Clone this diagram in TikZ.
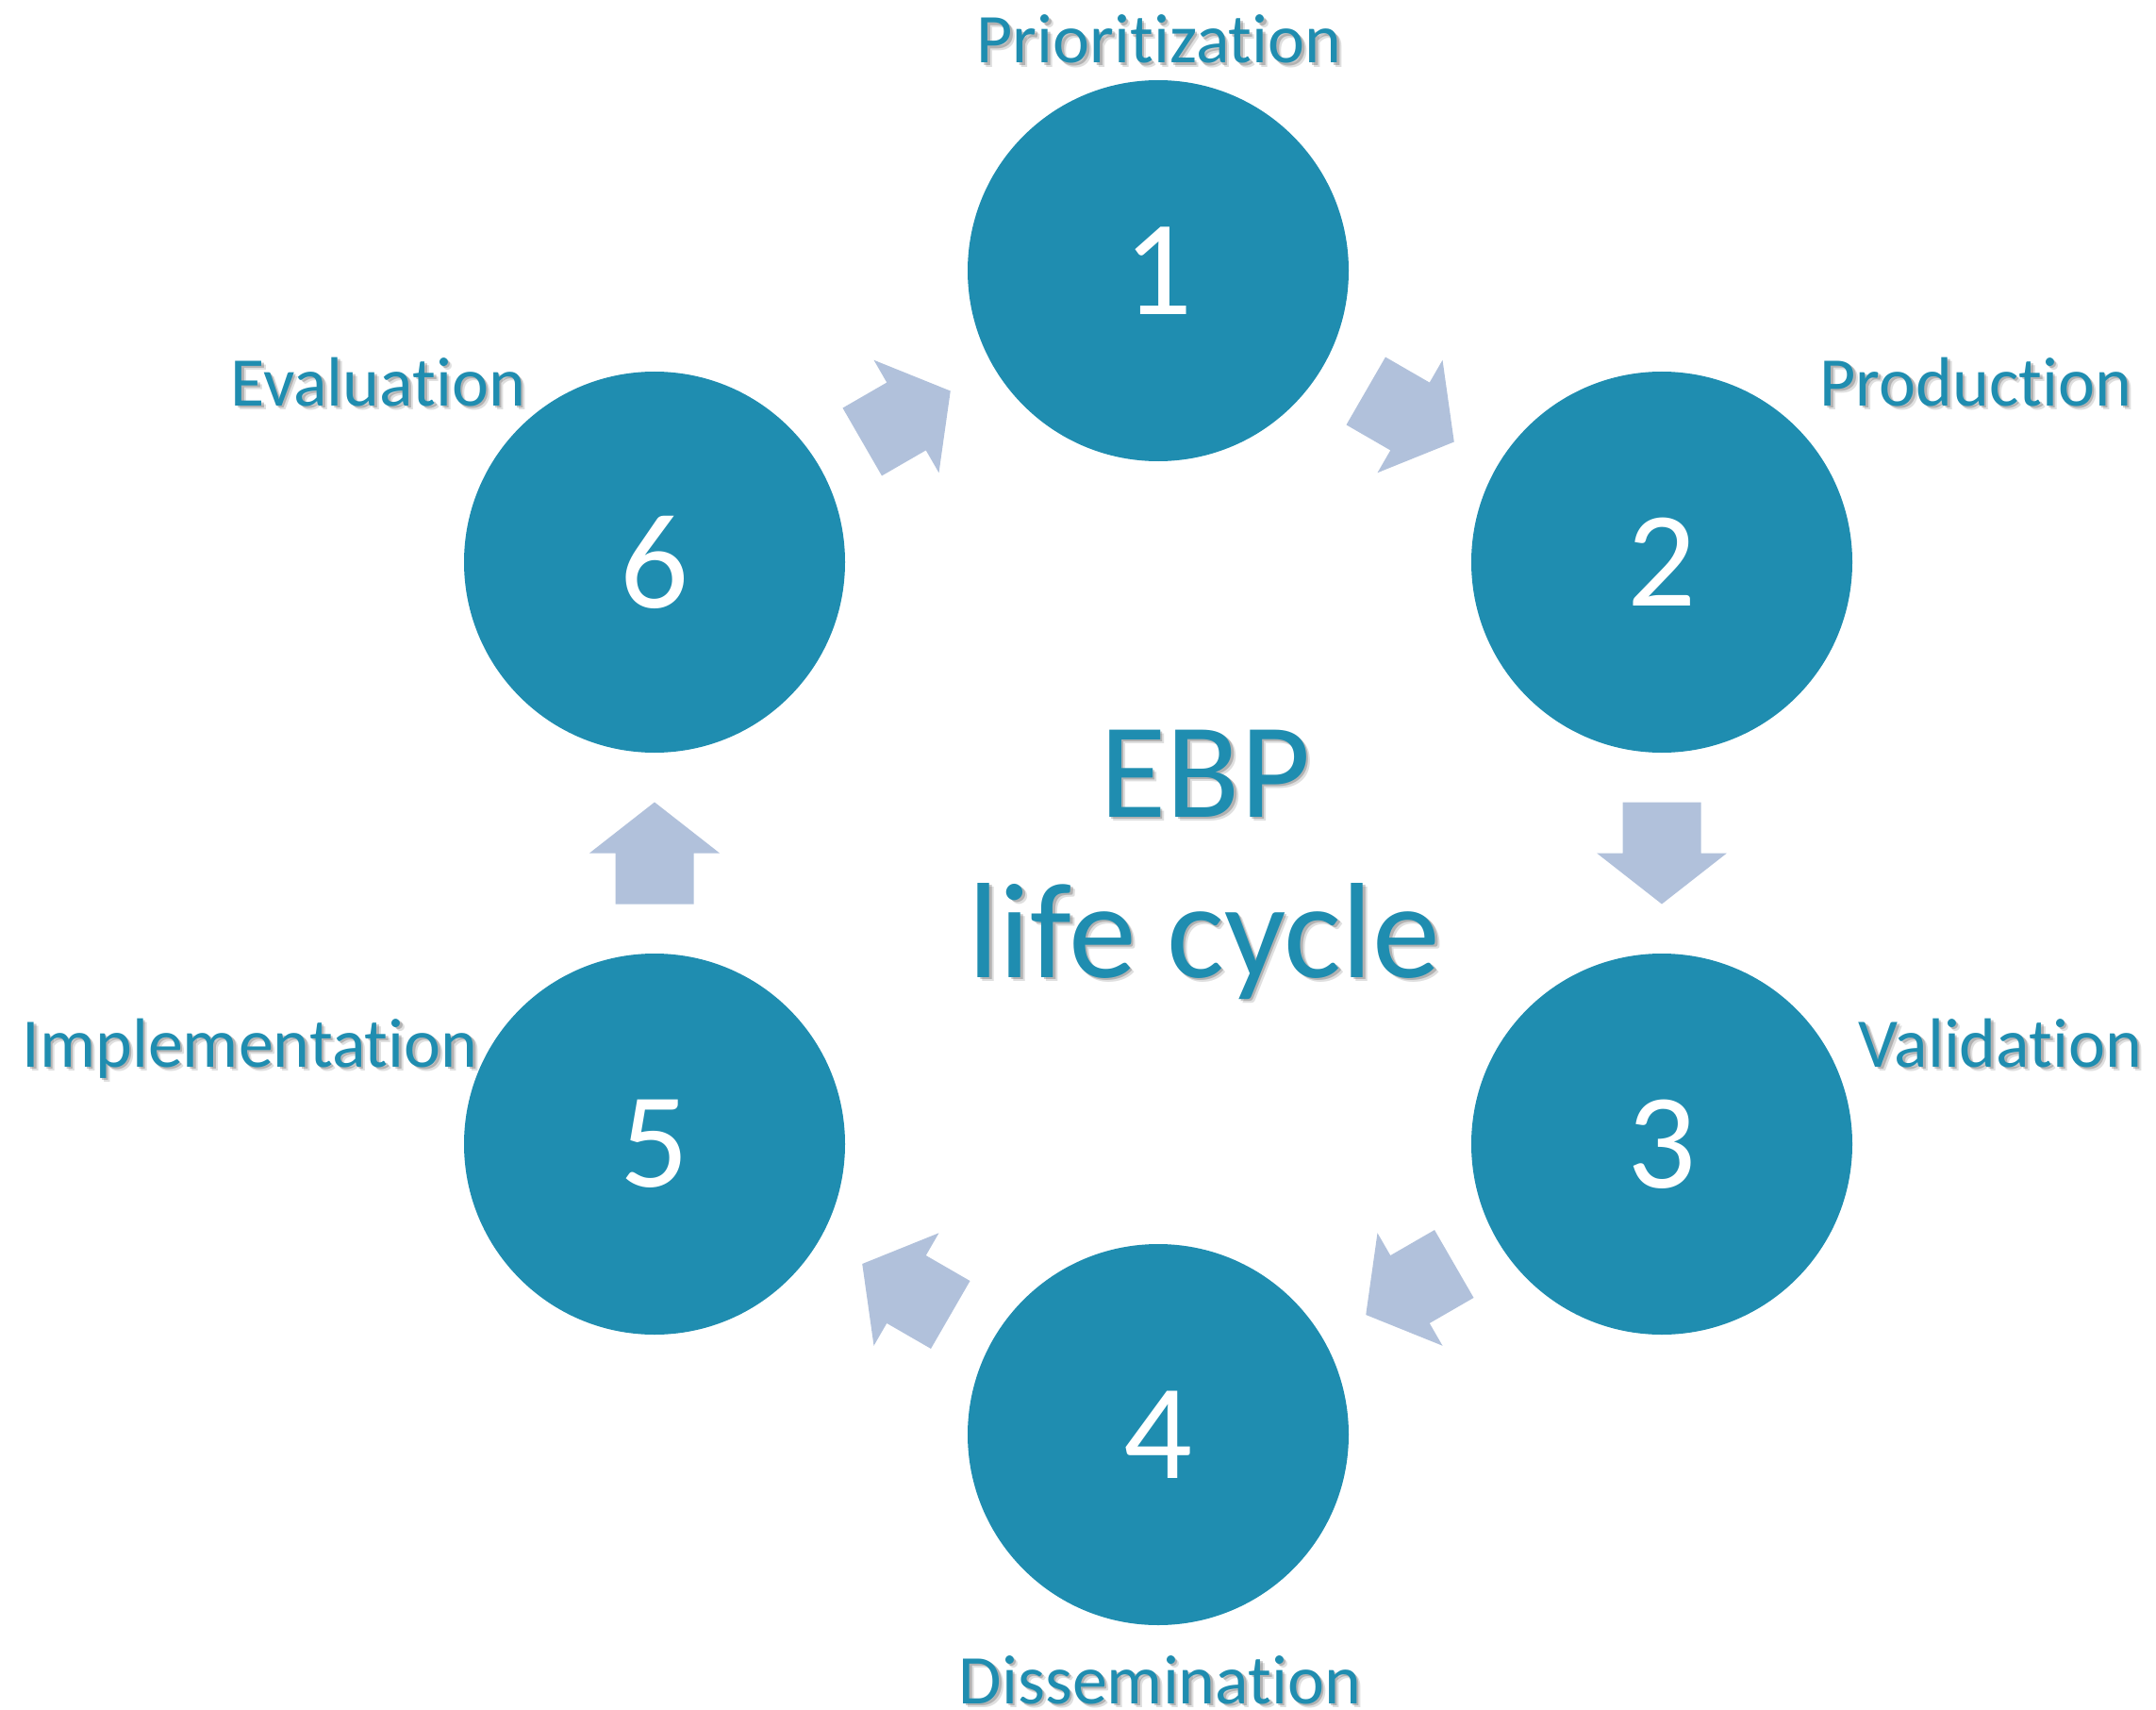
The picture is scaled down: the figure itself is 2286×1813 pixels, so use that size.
\documentclass[tikz,border=0pt]{standalone}
\usepackage{fontspec}
\setmainfont{Carlito}[Ligatures={NoCommon,NoContextual}]
\usetikzlibrary{calc}
\definecolor{stagecol}{RGB}{31,141,176}
\definecolor{arrowcol}{RGB}{177,193,219}
\newcommand\shadowedtext[4]{% text, x, y, options
  \node[labsh,opacity=0.18,#4] at (#2+4.5,#3+4.5) {#1};
  \node[labsh,opacity=0.30,#4] at (#2+2.5,#3+2.5) {#1};
  \node[lab,#4] at (#2,#3) {#1};
}
\begin{document}
\begin{tikzpicture}[x=0.5pt,y=-0.5pt,
  stage/.style={circle,fill=stagecol,minimum size=202pt,inner sep=0pt,text=white,
    font=\fontsize{72}{72}\selectfont},
  lab/.style={anchor=base,inner sep=0pt,text=stagecol},
  labsh/.style={anchor=base,inner sep=0pt,text=black!70},
  small/.style={font=\fontsize{37}{44}\selectfont},
  big/.style={font=\fontsize{72}{85}\selectfont},
  blockarrow/.pic={\fill[arrowcol] (-54,-41.5) -- (0,-41.5) -- (0,-69) -- (54,0)
     -- (0,69) -- (0,41.5) -- (-54,41.5) -- cycle;}
]
\useasboundingbox (0,0) rectangle (2286,1813);

% stages
\node[stage] (c1) at (1228,287)  {1};
\node[stage] (c2) at (1762,596)  {2};
\node[stage] (c3) at (1762,1213) {3};
\node[stage] (c4) at (1228,1521) {4};
\node[stage] (c5) at (694,1213)  {5};
\node[stage] (c6) at (694,596)   {6};

% block arrows between stages
\pic[rotate=-30]  (a12) at ($(c1)!0.5!(c2)$) {blockarrow};
\pic[rotate=-90]  (a23) at ($(c2)!0.5!(c3)$) {blockarrow};
\pic[rotate=-150] (a34) at ($(c3)!0.5!(c4)$) {blockarrow};
\pic[rotate=150]  (a45) at ($(c4)!0.5!(c5)$) {blockarrow};
\pic[rotate=90]   (a56) at ($(c5)!0.5!(c6)$) {blockarrow};
\pic[rotate=30]   (a61) at ($(c6)!0.5!(c1)$) {blockarrow};

% labels
\shadowedtext{Prioritization}{1229}{67}{small}
\shadowedtext{Production}{2095}{430}{small}
\shadowedtext{Evaluation}{401}{430}{small}
\shadowedtext{Implementation}{265}{1131}{small}
\shadowedtext{Validation}{2121}{1131}{small}
\shadowedtext{Dissemination}{1230}{1806}{small}

% centre title
\shadowedtext{EBP}{1278}{866}{big}
\shadowedtext{life cycle}{1277}{1036}{big}
\end{tikzpicture}
\end{document}
